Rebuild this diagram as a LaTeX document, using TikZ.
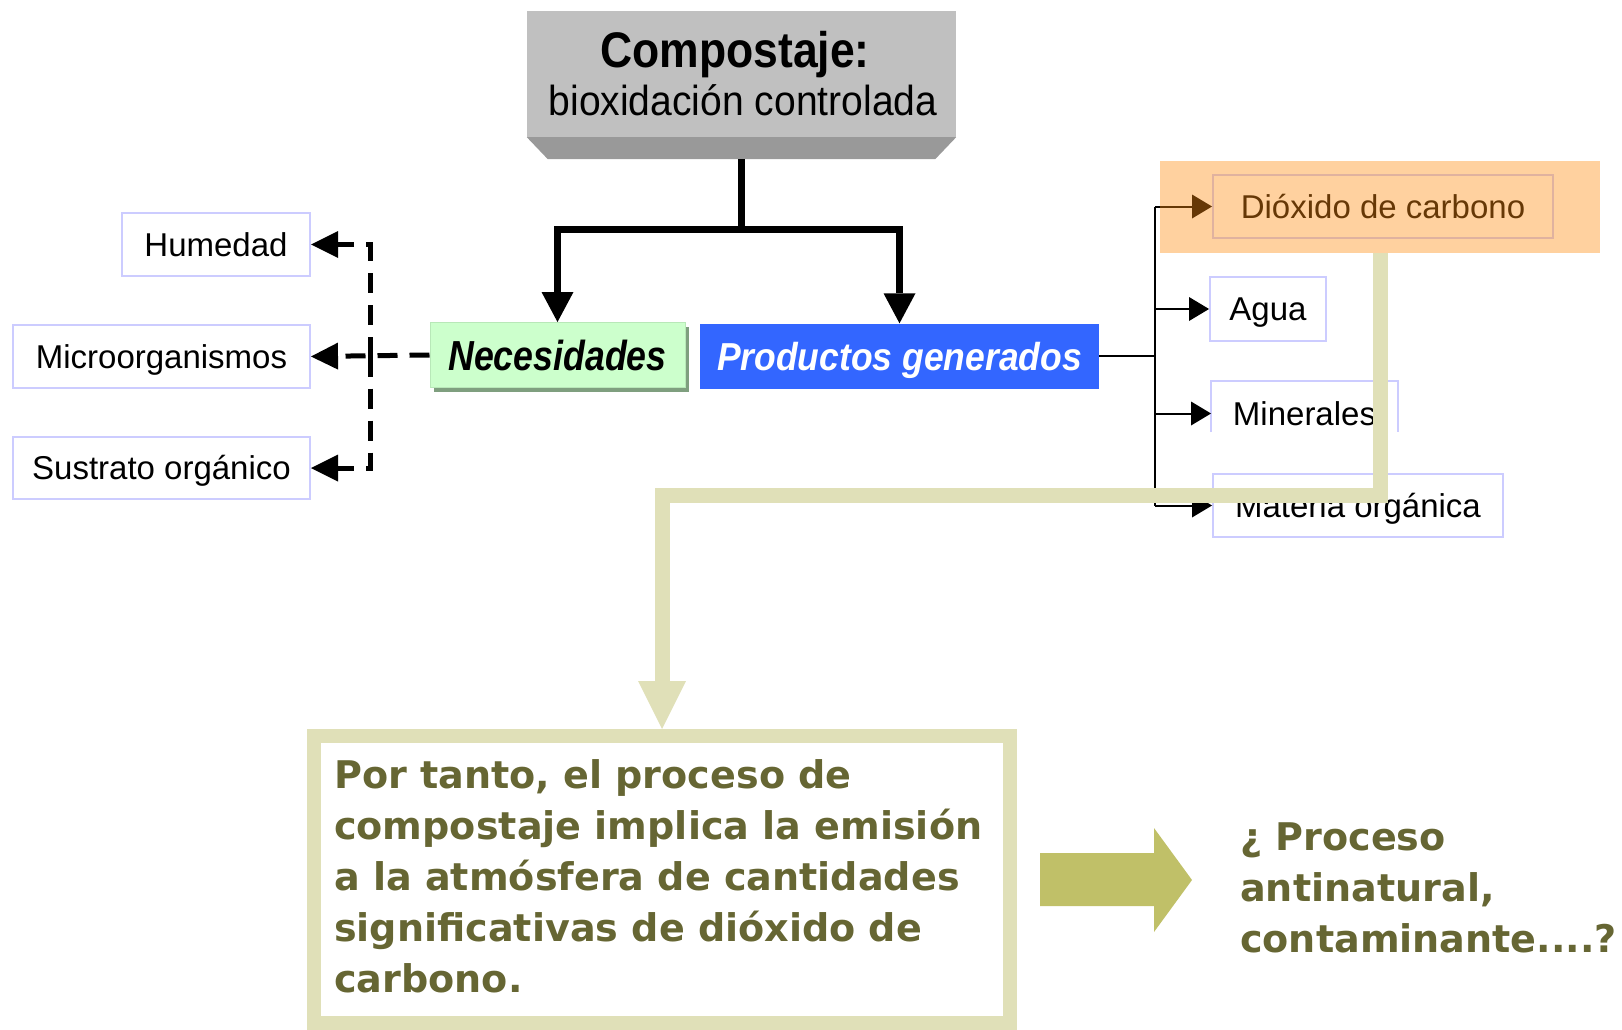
\documentclass[tikz,border=0pt]{standalone}
\usepackage{fontspec}
\setmainfont{Liberation Sans}
\newfontfamily\titlefont[FakeStretch=0.89]{Liberation Sans}
\newfontfamily\subfont[FakeStretch=0.93]{Liberation Sans}
\newfontfamily\necfont[FakeStretch=0.85]{Liberation Sans}
\newfontfamily\prodfont[FakeStretch=0.91]{Liberation Sans}
\newfontfamily\verd{DejaVu Sans}
\usetikzlibrary{arrows.meta,calc,shadows}
\definecolor{graytop}{HTML}{C0C0C0}
\definecolor{graybevel}{HTML}{999999}
\definecolor{lav}{HTML}{CCCCFF}
\definecolor{necgreen}{HTML}{CCFFCC}
\definecolor{necborder}{HTML}{B8E8B8}
\definecolor{necshadow}{HTML}{7F9F7F}
\definecolor{prodblue}{HTML}{3366FF}
\definecolor{hlorange}{HTML}{FF8C10}
\definecolor{olivepale}{HTML}{E0E0B8}
\definecolor{olivetext}{HTML}{666633}
\definecolor{khaki}{HTML}{C0C068}
\begin{document}
\begin{tikzpicture}[x=1pt,y=-1pt,
  lbl/.style={draw=lav, line width=2pt, fill=white, inner sep=0pt,
    font={\fontsize{33}{40}\selectfont}, text height=23.6pt, text depth=0pt},
  mainconn/.style={line width=7pt, line join=miter,
    -{Triangle[length=30pt,width=32pt,line width=0pt]}},
  dashconn/.style={line width=5pt, dash pattern=on 20pt off 12pt,
    -{Triangle[length=27pt,width=27pt,line width=0pt]}},
  thinline/.style={line width=2pt},
  thinarr/.style={line width=2pt, -{Triangle[length=20pt,width=24pt,line width=0pt]}},
  oliveconn/.style={draw=olivepale, line width=15pt, line join=miter,
    -{Triangle[length=48pt,width=48pt,line width=0pt]}},
  bigtext/.style={inner sep=0pt, anchor=base west, text=olivetext,
    font={\fontsize{38.1}{51}\verd\bfseries}}
]
\useasboundingbox (0,0) rectangle (1622,1030);

% top box
\node (top) [fill=graytop, minimum width=429pt, minimum height=126pt, inner sep=0pt] at (741.5,74) {};
\fill[graybevel] (top.south west) -- (top.south east) -- ++(-21,22) -- ($(top.south west)+(21,22)$) -- cycle;
\coordinate (tb) at ($(top.south)+(0,22)$);
\node (t1) [anchor=base, inner sep=0pt, font={\fontsize{50}{60}\titlefont\bfseries}] at (735,68) {Compostaje:};
\node (t2) [anchor=base, inner sep=0pt, font={\fontsize{42}{50}\subfont}] at (743,116) {bioxidación controlada};

% level 2
\node (nec) [fill=necgreen, draw=necborder, line width=1pt, minimum width=255pt, minimum height=65pt, inner sep=0pt,
  drop shadow={shadow xshift=4pt, shadow yshift=-4pt, fill=necshadow, opacity=1},
  text height=30pt, text depth=0pt, font={\fontsize{42}{50}\necfont\bfseries\itshape}] at (557.5,355) {Necesidades};
\node (prod) [fill=prodblue, minimum width=399pt, minimum height=65pt, inner sep=0pt, text=white,
  text height=28pt, text depth=0pt, font={\fontsize{39}{46}\prodfont\bfseries\itshape}] at (899.5,356) {Productos generados};
\draw[mainconn] (tb) -- ++(0,70) -| (nec.north);
\draw[mainconn] (tb) -- ++(0,70) -| (prod.north);

% left
\node (hum) [lbl, minimum width=188pt, minimum height=63pt] at (216,244.5) {Humedad};
\node (mic) [lbl, minimum width=297pt, minimum height=63pt] at (161.5,356.5) {Microorganismos};
\node (sus) [lbl, minimum width=297pt, minimum height=62pt] at (161.5,468) {Sustrato orgánico};
\coordinate (dj) at (370,356.5);
\draw[dashconn] (nec.west) -- (mic.east);
\draw[dashconn] (dj) |- (hum.east);
\draw[dashconn] (dj) |- (sus.east);

% right
\node (dio) [lbl, minimum width=340pt, minimum height=63pt] at (1383,206.5) {Dióxido de carbono};
\node (agua) [lbl, minimum width=116pt, minimum height=64pt] at (1268,309) {Agua};
\node (min) [lbl, draw=none, minimum width=185pt, minimum height=63pt] at (1304.5,413.5) {Minerales};
\draw[lav, line width=2pt] (min.north west) ++(0,51) |- (min.north east) -- ++(0,51);
\node (mat) [lbl, minimum width=290pt, minimum height=63pt] at (1358,505.5) {Materia orgánica};
\coordinate (bus) at (1155,0);
\draw[thinline] (prod.east) -- (prod.east -| bus);
\draw[thinline] (dio.west -| bus) -- (mat.west -| bus);
\draw[thinarr] (dio.west -| bus) -- (dio.west);
\draw[thinarr] (agua.west -| bus) -- (agua.west);
\draw[thinarr] (min.west -| bus) -- (min.west);
\draw[thinarr] (mat.west -| bus) -- (mat.west);

% highlight
\node (hl) [fill=hlorange, fill opacity=0.4, minimum width=440pt, minimum height=92pt, inner sep=0pt] at (1380,207) {};

% bottom
\node (nbox) [draw=olivepale, line width=14pt, minimum width=696pt, minimum height=287pt, inner sep=0pt] at (662,879.5) {};
\node (ntext) [bigtext] at (334,788) {\begin{tabular}[t]{@{}l@{}}Por tanto, el proceso de\\compostaje implica la emisión\\a la atmósfera de cantidades\\significativas de dióxido de\\carbono.\end{tabular}};
\node (q) [bigtext] at (1240,850) {\begin{tabular}[t]{@{}l@{}}¿ Proceso\\antinatural,\\contaminante....?\end{tabular}};
\fill[khaki] (1040,853) -- (1154,853) -- (1154,828) -- (1192,880) -- (1154,932) -- (1154,906) -- (1040,906) -- cycle;

% olive connector
\draw[oliveconn] (hl.south) -- ++(0,242) -| (nbox.north);
\end{tikzpicture}
\end{document}
